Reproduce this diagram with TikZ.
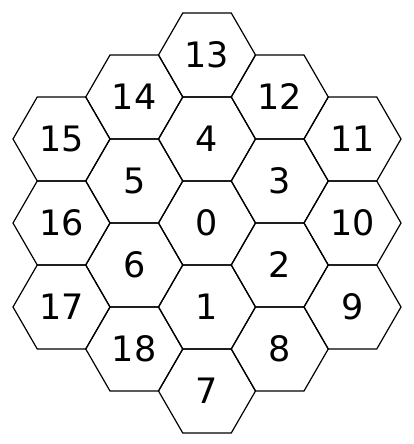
\documentclass[tikz,border=0pt]{standalone}
\usepackage{fontspec}
\setmainfont{DejaVu Sans}
\usetikzlibrary{shapes.geometric}
\begin{document}
\begin{tikzpicture}[x=1pt,y=-1pt,
  hexcell/.style={regular polygon, regular polygon sides=6, minimum size=97pt,
    inner sep=0pt, outer sep=0pt, draw=black, line width=1.2pt,
    font=\fontsize{35}{42}\selectfont}]
\useasboundingbox (0,0) rectangle (414,444);
\def\cx{207}
\def\dx{72.75}
% column 0
\node[hexcell] (h13) at (\cx,55) {13};
\node[hexcell] (h4) at (\cx,139) {4};
\node[hexcell] (h0) at (\cx,223) {0};
\node[hexcell] (h1) at (\cx,307) {1};
\node[hexcell] (h7) at (\cx,391) {7};
% column -1
\node[hexcell] (h14) at (\cx-\dx,97) {14};
\node[hexcell] (h5) at (\cx-\dx,181) {5};
\node[hexcell] (h6) at (\cx-\dx,265) {6};
\node[hexcell] (h18) at (\cx-\dx,349) {18};
% column +1
\node[hexcell] (h12) at (\cx+\dx,97) {12};
\node[hexcell] (h3) at (\cx+\dx,181) {3};
\node[hexcell] (h2) at (\cx+\dx,265) {2};
\node[hexcell] (h8) at (\cx+\dx,349) {8};
% column -2
\node[hexcell] (h15) at (\cx-2*\dx,139) {15};
\node[hexcell] (h16) at (\cx-2*\dx,223) {16};
\node[hexcell] (h17) at (\cx-2*\dx,307) {17};
% column +2
\node[hexcell] (h11) at (\cx+2*\dx,139) {11};
\node[hexcell] (h10) at (\cx+2*\dx,223) {10};
\node[hexcell] (h9) at (\cx+2*\dx,307) {9};
\end{tikzpicture}
\end{document}
